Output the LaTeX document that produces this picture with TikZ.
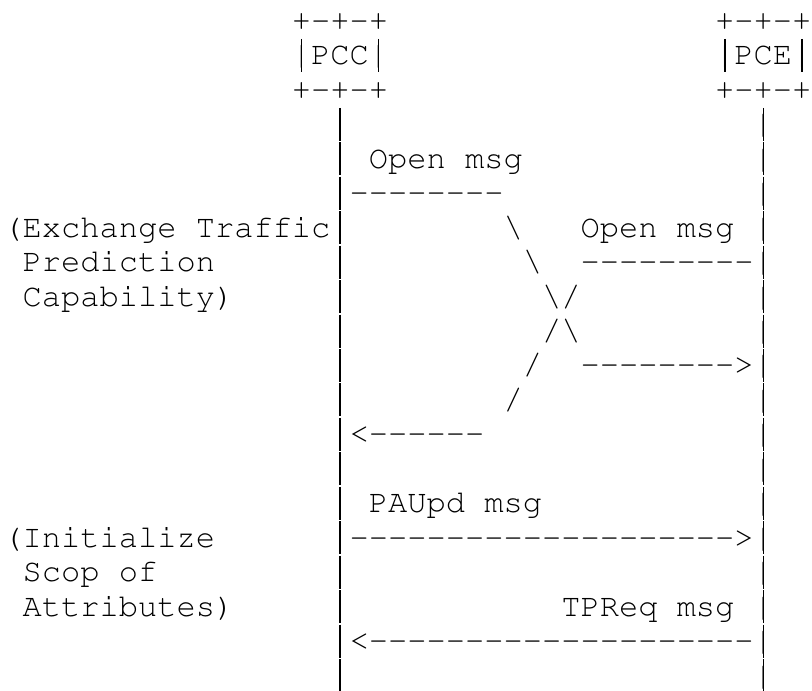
\documentclass[tikz,border=0pt]{standalone}
\usepackage[T1,TU]{fontenc}
\usepackage{tikz}

\newcommand{\asciifont}{\fontencoding{T1}\fontfamily{pcr}\fontsize{24.05pt}{25.84pt}\selectfont}
\newcommand{\dashrun}[1]{\foreach \n in {1,...,#1}{-}}
\tikzset{
	ascii/.style={anchor=base west, inner sep=0pt, outer sep=0pt, font=\asciifont},
	boxbar/.style={line width=1.2pt},
	lifeline/.style={boxbar, dash pattern=on 24.75pt off 1.09pt}
}

\begin{document}
\begin{tikzpicture}[x=14.43pt, y=-25.84pt]
	\useasboundingbox (-0.1767,-0.885) rectangle (42.03,19.171);

		%bars drawn full height, as the reference prints them
	\draw[boxbar] (15.5,0.245) -- (15.5,1.203);
	\draw[boxbar] (19.5,0.245) -- (19.5,1.203);
	\draw[boxbar] (37.5,0.245) -- (37.5,1.203);
	\draw[boxbar] (41.5,0.245) -- (41.5,1.203);
	\coordinate (pcchead) at (17.5,2.245);
	\coordinate (pcctail) at (17.5,19.203);
	\coordinate (pcehead) at (39.5,2.245);
	\coordinate (pcetail) at (39.5,19.203);
	\draw[lifeline] (pcchead) -- (pcctail);
	\draw[lifeline] (pcehead) -- (pcetail);

		%boxes
	\node[ascii] (pcctop) at (15,0) {+-+-+};
	\node[ascii] (pcetop) at (37,0) {+-+-+};
	\node[ascii] (pcc) at (15,1) {|PCC|};
	\node[ascii] (pce) at (37,1) {|PCE|};
	\node[ascii] (pccbottom) at (15,2) {+-+-+};
	\node[ascii] (pcebottom) at (37,2) {+-+-+};

		%lifelines
	\foreach \r in {3,...,19} {
		\node[ascii] (pccline\r) at (17,\r) {|};
		\node[ascii] (pceline\r) at (39,\r) {|};
	}

		%open msg crossing
	\node[ascii] (openreqlabel) at (19,4) {Open msg};
	\node[ascii] (openreqstart) at (18,5) {\dashrun{8}};
	\node[ascii] (openreqa) at (26,6) {\textbackslash};
	\node[ascii] (openresplabel) at (30,6) {Open msg};
	\node[ascii] (openreqb) at (27,7) {\textbackslash};
	\node[ascii] (openrespstart) at (30,7) {\dashrun{9}};
	\node[ascii] (crossa) at (28,8) {\textbackslash/};
	\node[ascii] (crossb) at (28,9) {/\textbackslash};
	\node[ascii] (openrespa) at (27,10) {/};
	\node[ascii] (openreqend) at (30,10) {\dashrun{8}>};
	\node[ascii] (openrespb) at (26,11) {/};
	\node[ascii] (openrespend) at (18,12) {<\dashrun{6}};

		%initial messages
	\node[ascii] (paupdlabel) at (19,14) {PAUpd msg};
	\node[ascii] (paupd) at (18,15) {\dashrun{20}>};
	\node[ascii] (tpreqlabel) at (29,17) {TPReq msg};
	\node[ascii] (tpreq) at (18,18) {<\dashrun{20}};

		%phase notes
	\node[ascii] (exchange) at (0,6) {(Exchange Traffic};
	\node[ascii] (prediction) at (1,7) {Prediction};
	\node[ascii] (capability) at (1,8) {Capability)};
	\node[ascii] (initialize) at (0,15) {(Initialize};
	\node[ascii] (scope) at (1,16) {Scop of};
	\node[ascii] (attributes) at (1,17) {Attributes)};
\end{tikzpicture}
\end{document}
